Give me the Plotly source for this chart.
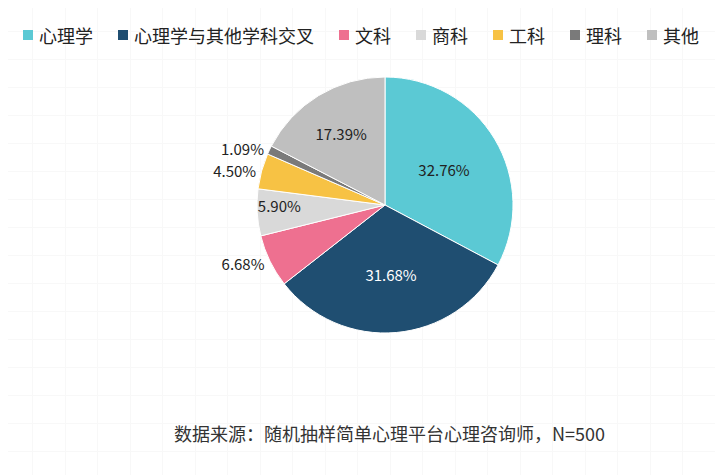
import plotly.graph_objects as go

categories = ["心理学", "心理学与其他学科交叉", "文科", "商科", "工科", "理科", "其他"]
values = [32.76, 31.68, 6.68, 5.90, 4.50, 1.09, 17.39]
colors = ["#5BC9D4", "#1F4E71", "#EE7090", "#D9D9D9", "#F7C244", "#7A7A7A", "#BFBFBF"]
text_pos = ["inside", "inside", "outside", "inside", "outside", "outside", "inside"]
text_col = ["#222222", "#FFFFFF", "#222222", "#222222", "#222222", "#222222", "#222222"]
labels_txt = ["%.2f%%" % v for v in values]
source_note = "数据来源：随机抽样简单心理平台心理咨询师，N=500"

W, H = 723, 475
OFF = 8  # page body margin offset
cx, cy, r = 385 - OFF, 205 - OFF, 128
FONT = "Noto Sans CJK SC"

fig = go.Figure()

# faint background grid
fig.add_trace(go.Scatter(x=[0], y=[0], mode="markers", marker=dict(opacity=0),
                         showlegend=False, hoverinfo="skip"))

fig.add_trace(go.Pie(
    labels=categories,
    values=values,
    text=labels_txt,
    textinfo="text",
    textposition=text_pos,
    insidetextorientation="horizontal",
    textfont=dict(size=15, color=text_col, family=FONT),
    outsidetextfont=dict(size=15, color="#222222", family=FONT),
    marker=dict(colors=colors, line=dict(color="#FFFFFF", width=1)),
    sort=False,
    direction="clockwise",
    rotation=0,
    domain=dict(x=[(cx - r) / W, (cx + r) / W], y=[1 - (cy + r) / H, 1 - (cy - r) / H]),
    automargin=False,
    showlegend=False,
))

# custom legend row: square marker + label
shapes = []
annotations = []
char_w, mk, gap, item_gap = 18, 10, 5, 26
x = 23 - OFF
ly = 35 - OFF
for cat, col in zip(categories, colors):
    shapes.append(dict(type="rect", xref="paper", yref="paper",
                       x0=x / W, x1=(x + mk) / W,
                       y0=1 - (ly + mk / 2) / H, y1=1 - (ly - mk / 2) / H,
                       fillcolor=col, line=dict(width=0), layer="above"))
    annotations.append(dict(text=cat, x=(x + mk + gap - 1) / W, y=1 - ly / H,
                            xref="paper", yref="paper", showarrow=False,
                            xanchor="left", yanchor="middle",
                            font=dict(size=18, color="#222222", family=FONT)))
    x += mk + gap + char_w * len(cat) + item_gap

annotations.append(dict(text=source_note,
                        x=(389 - OFF) / W, y=1 - (433 - OFF) / H, xref="paper", yref="paper",
                        showarrow=False, font=dict(size=18, color="#333333", family=FONT),
                        xanchor="center", yanchor="middle"))

fig.update_layout(
    width=W, height=H,
    margin=dict(l=0, r=0, t=0, b=0),
    paper_bgcolor="#FFFFFF",
    plot_bgcolor="#FFFFFF",
    font=dict(family=FONT, color="#222222"),
    uniformtext=dict(minsize=15, mode="show"),
    showlegend=False,
    shapes=shapes,
    annotations=annotations,
    xaxis=dict(range=[0, W], domain=[0, 1], showticklabels=False, zeroline=False,
               showgrid=True, gridcolor="#F8F8F8", gridwidth=1, tick0=24.5, dtick=32.5,
               fixedrange=True, showline=False, ticks=""),
    yaxis=dict(range=[H, 0], domain=[0, 1], showticklabels=False, zeroline=False,
               showgrid=True, gridcolor="#F8F8F8", gridwidth=1, tick0=23, dtick=28,
               fixedrange=True, showline=False, ticks=""),
)

fig.write_html("out.html")
